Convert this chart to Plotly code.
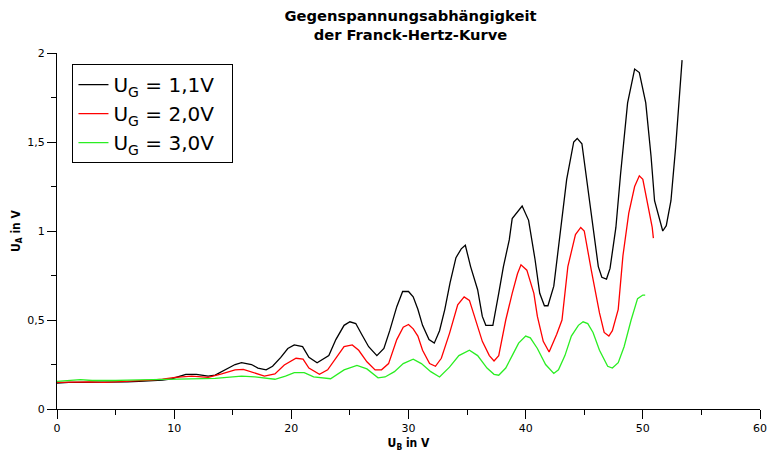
import plotly.graph_objects as go

# Franck-Hertz curves for three retarding voltages
ub_11 = [0, 1, 2, 3, 4, 5, 6, 7, 8, 9, 9.8, 10.5, 11.0, 11.9, 12.9, 13.5, 14.3, 15.2,
         15.75, 16.6, 17.15, 17.85, 18.4, 19.1, 19.7, 20.25, 20.96, 21.5, 22.2, 22.6,
         23.2, 23.8, 24.5, 25.0, 25.5, 26.0, 26.6, 27.3, 27.9, 28.4, 29.0, 29.5, 30.0,
         30.4, 30.8, 31.2, 31.75, 32.2, 32.65, 33.1, 33.55, 34.05, 34.5, 34.85, 35.3,
         35.9, 36.3, 36.6, 37.2, 37.7, 38.1, 38.6, 38.85, 39.7, 40.25, 40.8, 41.2, 41.6,
         41.9, 42.4, 42.9, 43.5, 44.1, 44.4, 44.8, 45.2, 45.75, 46.2, 46.5, 46.9, 47.2,
         47.7, 48.1, 48.7, 49.3, 49.7, 50.25, 50.7, 51.0, 51.7, 52.0, 52.4, 52.8, 53.35]
ua_11 = [0.145, 0.15, 0.15, 0.15, 0.148, 0.15, 0.152, 0.155, 0.158, 0.163, 0.17, 0.185,
         0.195, 0.195, 0.185, 0.19, 0.22, 0.25, 0.26, 0.25, 0.23, 0.22, 0.24, 0.29, 0.34,
         0.36, 0.35, 0.29, 0.26, 0.275, 0.30, 0.39, 0.47, 0.49, 0.48, 0.42, 0.35, 0.30,
         0.34, 0.44, 0.575, 0.66, 0.66, 0.63, 0.56, 0.47, 0.39, 0.37, 0.44, 0.56, 0.71,
         0.85, 0.90, 0.92, 0.80, 0.67, 0.52, 0.47, 0.47, 0.65, 0.80, 0.95, 1.07, 1.14,
         1.06, 0.84, 0.65, 0.58, 0.58, 0.69, 0.95, 1.29, 1.50, 1.52, 1.49, 1.29, 1.02,
         0.80, 0.74, 0.73, 0.79, 1.02, 1.32, 1.72, 1.91, 1.89, 1.72, 1.42, 1.17, 1.00,
         1.03, 1.17, 1.47, 1.96]

ub_20 = [0, 1, 2, 3, 4, 5, 6, 7, 8, 9, 10.1, 11.5, 12.9, 14.05, 15.2, 15.9, 16.9, 17.7,
         18.6, 19.4, 20.4, 21.0, 21.5, 22.4, 23.1, 23.8, 24.5, 25.2, 25.75, 26.45, 27.15,
         27.7, 28.3, 29.0, 29.55, 30.0, 30.4, 30.8, 31.2, 31.8, 32.3, 32.8, 33.5, 34.2,
         34.75, 35.2, 35.75, 36.3, 36.9, 37.3, 37.7, 38.3, 38.85, 39.3, 39.6, 40.1, 40.7,
         41.0, 41.5, 42.0, 42.65, 43.1, 43.6, 44.25, 44.7, 45.0, 45.6, 46.3, 46.7, 47.1,
         47.4, 47.9, 48.3, 48.8, 49.3, 49.7, 50.0, 50.4, 50.8, 50.9]
ua_20 = [0.15, 0.152, 0.15, 0.152, 0.15, 0.152, 0.155, 0.158, 0.162, 0.168, 0.178, 0.185,
         0.178, 0.197, 0.22, 0.223, 0.20, 0.185, 0.197, 0.247, 0.285, 0.28, 0.23, 0.195,
         0.22, 0.285, 0.35, 0.36, 0.33, 0.265, 0.22, 0.22, 0.255, 0.39, 0.46, 0.475, 0.45,
         0.41, 0.33, 0.255, 0.24, 0.285, 0.425, 0.585, 0.63, 0.61, 0.50, 0.38, 0.30, 0.27,
         0.30, 0.50, 0.65, 0.76, 0.81, 0.78, 0.65, 0.52, 0.38, 0.32, 0.42, 0.50, 0.80,
         0.98, 1.02, 1.00, 0.78, 0.54, 0.43, 0.41, 0.44, 0.56, 0.86, 1.10, 1.25, 1.31,
         1.29, 1.16, 1.02, 0.96]

ub_30 = [0, 1, 2, 3, 4, 5, 6, 7, 8.1, 10, 12, 13.5, 14.5, 15.75, 16.9, 18.6, 19.5, 20.25,
         21.1, 21.9, 23.35, 24.5, 25.6, 26.45, 27.4, 28.0, 28.8, 29.55, 30.4, 31.1, 31.9,
         32.65, 33.5, 34.3, 35.2, 35.9, 36.7, 37.3, 37.7, 38.3, 38.85, 39.4, 40.0, 40.4,
         41.0, 41.7, 42.4, 42.8, 43.35, 43.9, 44.5, 44.9, 45.3, 45.75, 46.3, 47.0, 47.4,
         47.9, 48.4, 49.0, 49.55, 50.0, 50.2]
ua_30 = [0.155, 0.16, 0.165, 0.16, 0.158, 0.16, 0.162, 0.163, 0.167, 0.168, 0.17, 0.172,
         0.178, 0.185, 0.18, 0.167, 0.185, 0.204, 0.204, 0.18, 0.17, 0.22, 0.245, 0.225,
         0.175, 0.18, 0.21, 0.255, 0.28, 0.255, 0.21, 0.18, 0.235, 0.30, 0.33, 0.30, 0.23,
         0.195, 0.19, 0.23, 0.30, 0.37, 0.41, 0.40, 0.34, 0.25, 0.20, 0.22, 0.30, 0.41,
         0.47, 0.49, 0.48, 0.43, 0.33, 0.24, 0.23, 0.26, 0.35, 0.50, 0.62, 0.64, 0.64]

series = [
    ("U<sub>G</sub> = 1,1V\u00a0\u00a0", ub_11, ua_11, "#000000"),
    ("U<sub>G</sub> = 2,0V\u00a0\u00a0", ub_20, ua_20, "#ff0000"),
    ("U<sub>G</sub> = 3,0V\u00a0\u00a0", ub_30, ua_30, "#2aee22"),
]

fig = go.Figure()
for name, xs, ys, color in series:
    fig.add_trace(go.Scatter(
        x=xs, y=ys, mode="lines", name=name,
        line=dict(color=color, width=1.3)
    ))

axis_style = dict(
    showline=True, linecolor="black", linewidth=1,
    ticks="outside", ticklen=9, tickcolor="black",
    showgrid=False, zeroline=False, ticklabeloverflow="allow",
    tickfont=dict(family="DejaVu Sans", size=11, color="black"),
)

fig.update_xaxes(
    range=[0, 60], dtick=10,
    minor=dict(dtick=5, ticklen=5, tickcolor="black", ticks="outside"),
    title=dict(text="<b>U<sub>B</sub> in V</b>",
               font=dict(family="DejaVu Sans Condensed", size=12, color="black"),
               standoff=4),
    **axis_style
)
fig.update_yaxes(
    range=[0, 2], dtick=0.5,
    minor=dict(dtick=0.25, ticklen=5, tickcolor="black", ticks="outside"),
    title=dict(text="<b>U<sub>A</sub> in V</b>",
               font=dict(family="DejaVu Sans Condensed", size=12, color="black"),
               standoff=4),
    **axis_style
)

fig.update_layout(
    width=776, height=457,
    margin=dict(l=57, r=9, t=53, b=48),
    paper_bgcolor="white", plot_bgcolor="white",
    font=dict(family="DejaVu Sans", color="black"),
    separators=",.",
    title=dict(
        text="<b>Gegenspannungsabhängigkeit<br>der Franck-Hertz-Kurve</b>",
        font=dict(family="DejaVu Sans", size=14.7, color="black"),
        x=0.529, xanchor="center", yref="container", y=0.954, yanchor="top",
    ),
    legend=dict(
        x=0.022, y=0.969, xanchor="left", yanchor="top",
        bordercolor="black", borderwidth=1, bgcolor="white",
        font=dict(family="DejaVu Sans", size=20, color="black"),
        tracegroupgap=0,
    ),
    showlegend=True,
)

# drop the default 8px body margin so the figure sits at the page corner
fig.write_html("out.html", config={"displayModeBar": False},
               post_script="document.body.style.margin = '0';")
